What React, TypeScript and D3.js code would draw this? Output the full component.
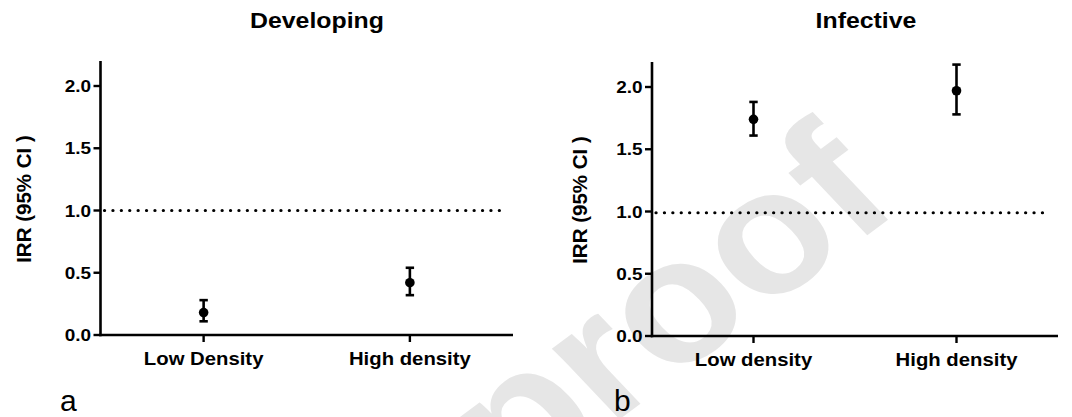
import React from "react";
import * as d3 from "d3";

// values
const panelTitles = ["Developing", "Infective"];
const panelLetters = ["a", "b"];

const developingCats = ["Low Density", "High density"];
const developingIRR = [0.18, 0.42];
const developingLow = [0.11, 0.32];
const developingHigh = [0.28, 0.54];

const infectiveCats = ["Low density", "High density"];
const infectiveIRR = [1.74, 1.97];
const infectiveLow = [1.61, 1.78];
const infectiveHigh = [1.88, 2.18];

const yTicks = [0, 0.5, 1.0, 1.5, 2.0];
const yTop = 2.2;
const refValues = [1.0, 0.99];
const yLabel = "IRR (95% CI )";
const watermark = "proof";

const W = 1072;
const H = 417;
const FONT = "'Liberation Sans', Arial, Helvetica, sans-serif";
const SX = 1.13; // the source figure is slightly stretched horizontally

function SText(props: any) {
  const { x, y, anchor, size, weight, children, sx } = props;
  return (
    <text
      transform={`translate(${x},${y}) scale(${sx ?? SX},1)`}
      textAnchor={anchor || "start"}
      fontSize={size}
      fontWeight={weight || "bold"}
      fontFamily={FONT}
      fill="#000"
    >
      {children}
    </text>
  );
}

function Panel(props: any) {
  const { left, right, y0, y2, cats, irr, lo, hi, title, titleX, letterX, labelX, refVal, refEnd } = props;
  const y = d3.scaleLinear().domain([0, 2]).range([y0, y2]);
  const x = d3.scalePoint<string>().domain(cats).range([left, right]).padding(0.5);
  const refLine = d3.line<number>().x((d) => d).y(() => y(refVal));
  const cap = 4.2;

  return (
    <g>
      <SText x={titleX} y={28} anchor="middle" size={22}>{title}</SText>

      {/* reference line */}
      <path
        d={refLine([left + 4, refEnd]) || ""}
        stroke="#000"
        strokeWidth={3.2}
        strokeDasharray="0.1 8.3"
        strokeLinecap="round"
        fill="none"
      />

      {/* y axis */}
      <line x1={left} x2={left} y1={y(yTop)} y2={y0 + 1.2} stroke="#000" strokeWidth={2.6} />
      {yTicks.map((t) => (
        <g key={t}>
          <line x1={left - 7} x2={left} y1={y(t)} y2={y(t)} stroke="#000" strokeWidth={2.4} />
          <SText x={left - 9.5} y={y(t) + 6} anchor="end" size={16.5} sx={1.15}>
            {d3.format(".1f")(t)}
          </SText>
        </g>
      ))}
      <text
        transform={`translate(${labelX},${(y0 + y(yTop)) / 2 + 1}) rotate(-90)`}
        textAnchor="middle"
        fontSize={20.5}
        fontWeight="bold"
        fontFamily={FONT}
      >
        {yLabel}
      </text>

      {/* x axis */}
      <line x1={left - 1.2} x2={right} y1={y0} y2={y0} stroke="#000" strokeWidth={2.6} />
      {cats.map((c: string) => (
        <g key={c}>
          <line x1={x(c)} x2={x(c)} y1={y0} y2={y0 + 7} stroke="#000" strokeWidth={2.4} />
          <SText x={x(c)} y={y0 + 30} anchor="middle" size={18.3} sx={1.11}>{c}</SText>
        </g>
      ))}

      {/* estimates with CI */}
      {cats.map((c: string, i: number) => {
        const cx = x(c) as number;
        return (
          <g key={"p" + c}>
            <line x1={cx} x2={cx} y1={y(lo[i])} y2={y(hi[i])} stroke="#000" strokeWidth={2.6} />
            <line x1={cx - cap} x2={cx + cap} y1={y(lo[i])} y2={y(lo[i])} stroke="#000" strokeWidth={2.6} />
            <line x1={cx - cap} x2={cx + cap} y1={y(hi[i])} y2={y(hi[i])} stroke="#000" strokeWidth={2.6} />
            <circle cx={cx} cy={y(irr[i])} r={4.8} fill="#000" />
          </g>
        );
      })}

      <text x={letterX} y={411} fontSize={30} fontFamily={FONT} fill="#000">
        {props.letter}
      </text>
    </g>
  );
}

export default function App() {
  return (
    <svg
      width={W}
      height={H}
      style={{ position: "absolute", left: 0, top: 0, background: "#fff" }}
    >
      <rect width={W} height={H} fill="#fff" />
      {/* watermark */}
      <text
        transform={`translate(710,352) scale(${SX},1) rotate(-40)`}
        textAnchor="middle"
        fontSize={175}
        fontWeight="bold"
        fontFamily={FONT}
        fill="#e6e6e6"
      >
        {watermark}
      </text>

      <Panel
        left={100.5}
        right={513}
        y0={335}
        y2={86}
        cats={developingCats}
        irr={developingIRR}
        lo={developingLow}
        hi={developingHigh}
        title={panelTitles[0]}
        titleX={317}
        letter={panelLetters[0]}
        letterX={60}
        labelX={31}
        refVal={refValues[0]}
        refEnd={500}
      />
      <Panel
        left={652}
        right={1058}
        y0={336}
        y2={87}
        cats={infectiveCats}
        irr={infectiveIRR}
        lo={infectiveLow}
        hi={infectiveHigh}
        title={panelTitles[1]}
        titleX={866}
        letter={panelLetters[1]}
        letterX={614}
        labelX={587}
        refVal={refValues[1]}
        refEnd={1046}
      />
    </svg>
  );
}
